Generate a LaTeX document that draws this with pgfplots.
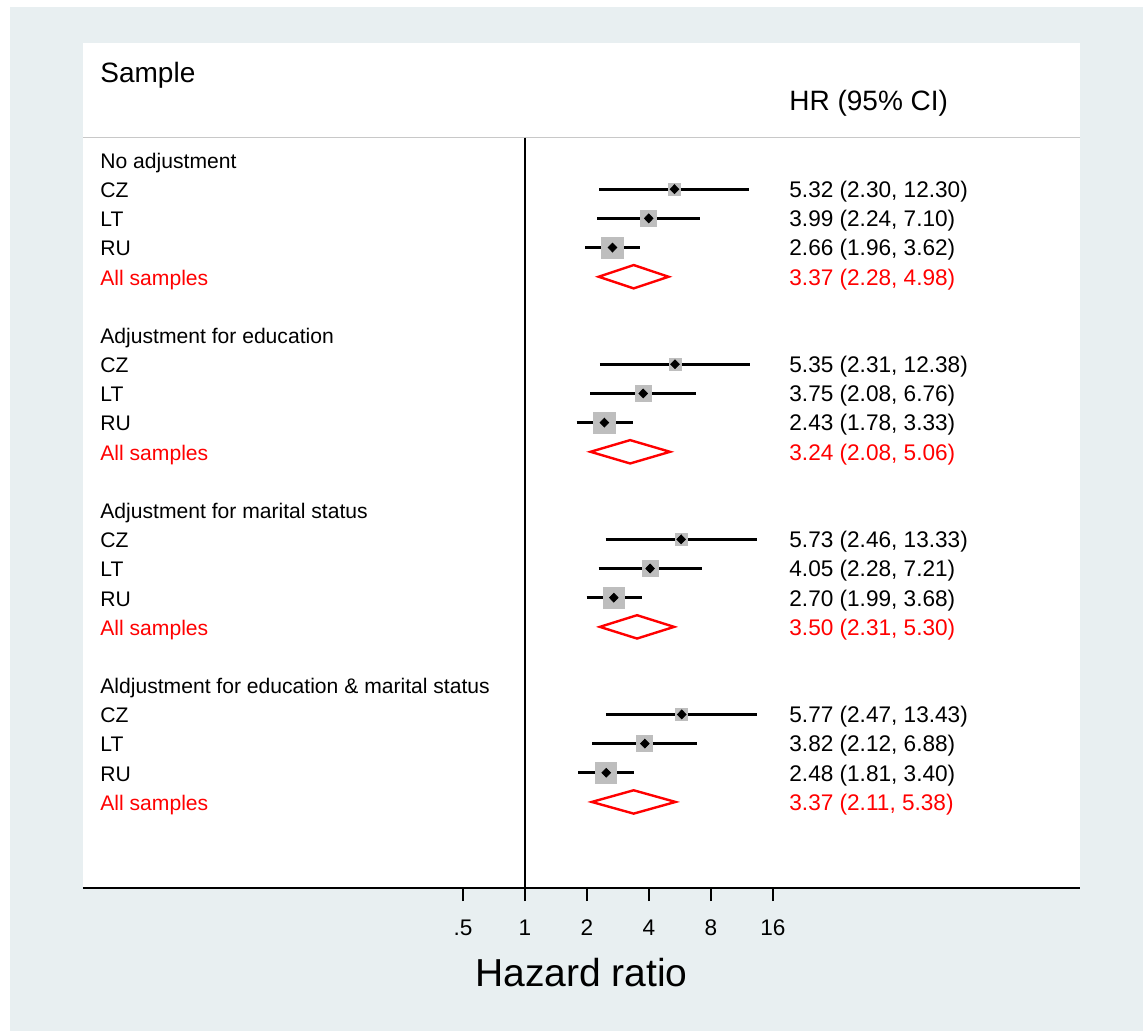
\documentclass[border=0pt]{standalone}
\usepackage{fontspec}
\setmainfont{Liberation Sans}
\usepackage{pgfplots}
\pgfplotsset{compat=1.18}

\definecolor{bgouter}{RGB}{232,239,241}
\definecolor{boxgray}{RGB}{190,190,190}
\definecolor{rulegray}{RGB}{200,200,200}

\begin{document}
\begin{tikzpicture}
  % page, outer region and plot region (1 px = 0.5 pt)
  \useasboundingbox (0,0) rectangle (571.5pt,-515.5pt);
  \fill[white]   (0,0) rectangle (571.5pt,-515.5pt);
  \fill[bgouter] (5pt,-3.5pt) rectangle (571.5pt,-515.5pt);
  \fill[white]   (41.5pt,-21.5pt) rectangle (540pt,-444pt);
  \draw[rulegray, line width=0.75pt] (41.5pt,-68.75pt) -- (540pt,-68.75pt);

  \begin{axis}[
    at={(41.5pt,-444pt)}, anchor=south west,
    scale only axis, width=498.5pt, height=422.5pt,
    xmode=log, log basis x=2,
    xmin=0.007144, xmax=495.3,
    ymin=-4.01, ymax=24.95, y dir=reverse,
    axis x line*=bottom, axis y line=none,
    axis line style={black, line width=1pt},
    xtick={0.5,1,2,4,8,16}, xticklabels={.5,1,2,4,8,16},
    minor xtick={}, ytick=\empty,
    tick align=outside, major tick length=6.5pt,
    tick style={black, line width=0.8pt},
    xticklabel style={font=\fontsize{11.3}{13}\selectfont, anchor=base, yshift=-17pt},
    xlabel={Hazard ratio},
    xlabel style={at={(axis description cs:0.5,0)}, anchor=base, yshift=-49pt,
                  font=\fontsize{19.5}{22}\selectfont},
    clip=false,
  ]
    % line of no effect
    \addplot[black, line width=1.1pt] coordinates {(1,-0.771) (1,24.95)};

    % study weights (grey boxes)
    \addplot[only marks, color=boxgray, mark=square*, mark size=3pt]
      coordinates {(5.32,1) (5.35,7) (5.73,13) (5.77,19)};
    \addplot[only marks, color=boxgray, mark=square*, mark size=4pt]
      coordinates {(3.99,2) (3.75,8) (4.05,14) (3.82,20)};
    \addplot[only marks, color=boxgray, mark=square*, mark size=5.3pt]
      coordinates {(2.66,3) (2.43,9) (2.70,15) (2.48,21)};

    % 95% confidence intervals
    \pgfplotsset{ci/.style={black, line width=1.35pt, mark=none}}
    \addplot[ci] coordinates {(2.30,1) (12.30,1)};
    \addplot[ci] coordinates {(2.24,2) (7.10,2)};
    \addplot[ci] coordinates {(1.96,3) (3.62,3)};
    \addplot[ci] coordinates {(2.31,7) (12.38,7)};
    \addplot[ci] coordinates {(2.08,8) (6.76,8)};
    \addplot[ci] coordinates {(1.78,9) (3.33,9)};
    \addplot[ci] coordinates {(2.46,13) (13.33,13)};
    \addplot[ci] coordinates {(2.28,14) (7.21,14)};
    \addplot[ci] coordinates {(1.99,15) (3.68,15)};
    \addplot[ci] coordinates {(2.47,19) (13.43,19)};
    \addplot[ci] coordinates {(2.12,20) (6.88,20)};
    \addplot[ci] coordinates {(1.81,21) (3.40,21)};

    % point estimates
    \addplot[only marks, color=black, mark=diamond*, mark size=2.2pt, mark options={xscale=1.3}]
      coordinates {(5.32,1) (3.99,2) (2.66,3)
                   (5.35,7) (3.75,8) (2.43,9)
                   (5.73,13) (4.05,14) (2.70,15)
                   (5.77,19) (3.82,20) (2.48,21)};

    % pooled estimates
    \pgfplotsset{pool/.style={red, line width=1.2pt, mark=none, line join=miter}}
    \addplot[pool] coordinates {(2.28,4) (3.37,3.6) (4.98,4) (3.37,4.4) (2.28,4) (3.37,3.6)};
    \addplot[pool] coordinates {(2.08,10) (3.24,9.6) (5.06,10) (3.24,10.4) (2.08,10) (3.24,9.6)};
    \addplot[pool] coordinates {(2.31,16) (3.50,15.6) (5.30,16) (3.50,16.4) (2.31,16) (3.50,15.6)};
    \addplot[pool] coordinates {(2.11,22) (3.37,21.6) (5.38,22) (3.37,22.4) (2.11,22) (3.37,21.6)};
  \end{axis}

  % text columns
  \begin{scope}[x=0.5pt, y=-0.5pt,
      lbl/.style={anchor=base west, inner sep=0pt, font=\fontsize{10.55}{12}\selectfont},
      val/.style={anchor=base west, inner sep=0pt, font=\fontsize{11.3}{13}\selectfont}]
    \node[anchor=base west, inner sep=0pt, font=\fontsize{14}{16}\selectfont] at (100,83) {Sample};
    \node[anchor=base west, inner sep=0pt, font=\fontsize{14}{16}\selectfont] at (789,111) {HR (95\% CI)};

    \foreach \r/\t in {0/{No adjustment}, 6/{Adjustment for education},
                       12/{Adjustment for marital status},
                       18/{Aldjustment for education \& marital status}} {
      \node[lbl] at (100,{168.3+29.18*\r}) {\t};
      \node[lbl] at (100,{168.3+29.18*(\r+1)}) {CZ};
      \node[lbl] at (100,{168.3+29.18*(\r+2)}) {LT};
      \node[lbl] at (100,{168.3+29.18*(\r+3)}) {RU};
      \node[lbl, red] at (100,{168.3+29.18*(\r+4)}) {All samples};
    }

    \foreach \r/\t in {1/{5.32 (2.30, 12.30)}, 2/{3.99 (2.24, 7.10)}, 3/{2.66 (1.96, 3.62)},
                       7/{5.35 (2.31, 12.38)}, 8/{3.75 (2.08, 6.76)}, 9/{2.43 (1.78, 3.33)},
                       13/{5.73 (2.46, 13.33)}, 14/{4.05 (2.28, 7.21)}, 15/{2.70 (1.99, 3.68)},
                       19/{5.77 (2.47, 13.43)}, 20/{3.82 (2.12, 6.88)}, 21/{2.48 (1.81, 3.40)}}
      \node[val] at (789,{168.3+29.18*\r}) {\t};

    \foreach \r/\t in {4/{3.37 (2.28, 4.98)}, 10/{3.24 (2.08, 5.06)},
                       16/{3.50 (2.31, 5.30)}, 22/{3.37 (2.11, 5.38)}}
      \node[val, red] at (789,{168.3+29.18*\r}) {\t};
  \end{scope}
\end{tikzpicture}
\end{document}
